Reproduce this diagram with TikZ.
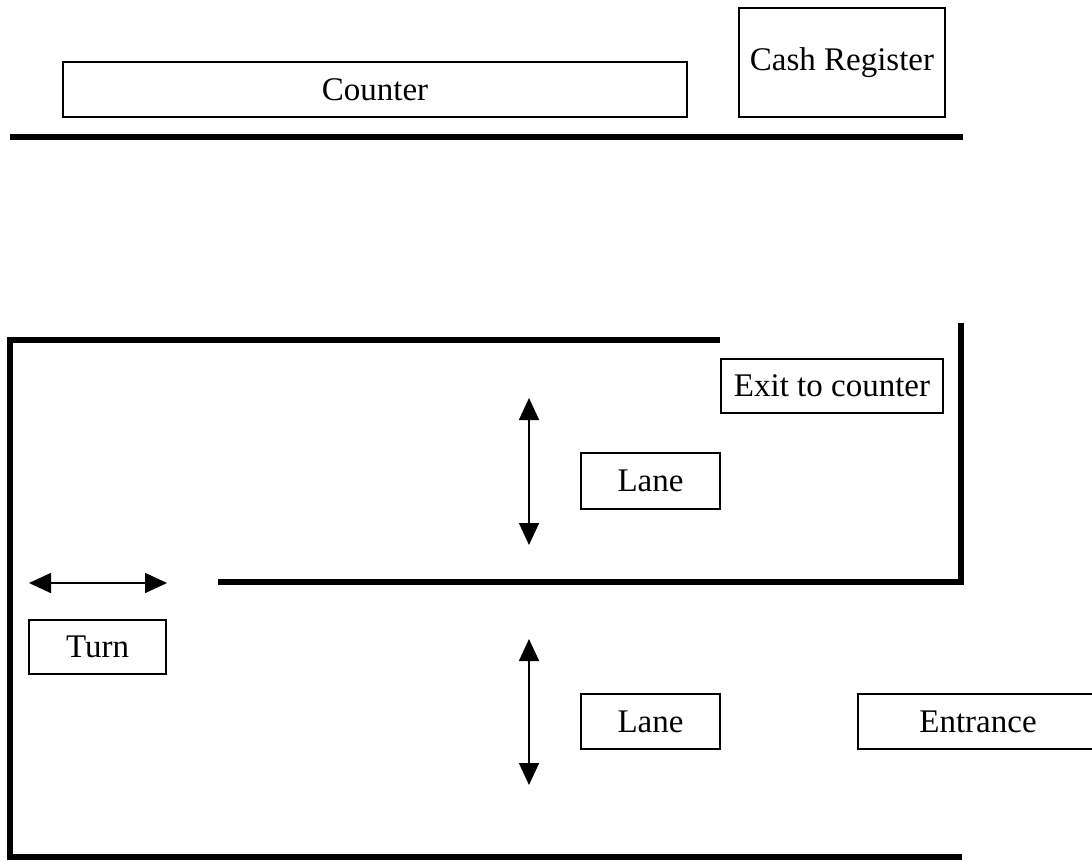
\documentclass[tikz,border=0pt]{standalone}
\usepackage{fontspec}
\setmainfont{Liberation Serif}
\usetikzlibrary{arrows.meta}
\begin{document}
\begin{tikzpicture}[x=1pt,y=-1pt,
  lbl/.style={draw, line width=1.5pt, inner sep=0pt, font=\fontsize{33}{36}\selectfont},
  wall/.style={line width=6pt, line join=miter},
  dblarrow/.style={line width=1.6pt, {Triangle[length=22pt,width=20pt]}-{Triangle[length=22pt,width=20pt]}}]
\useasboundingbox (0,0) rectangle (1092,860);
\clip (0,0) rectangle (1092,860);
% counter area
\node[lbl, minimum width=624pt, minimum height=55pt] (counter) at (375,89.5) {Counter};
\node[lbl, minimum width=206pt, minimum height=109pt] (cash) at (842,62.5) {Cash Register};
\draw[wall] (10,137) -- (963,137);
% walls of the queue
\draw[wall] (720,340) -- (10,340) -- (10,857) -- (962,857);
\draw[wall] (961,323) -- (961,582) -- (218,582);
% labels
\node[lbl, minimum width=222pt, minimum height=54pt] (exit) at (832,386) {Exit to counter};
\node[lbl, minimum width=139pt, minimum height=56pt] (lane1) at (650.5,481) {Lane};
\node[lbl, minimum width=137pt, minimum height=54pt] (turn) at (97.5,647) {Turn};
\node[lbl, minimum width=139pt, minimum height=55pt] (lane2) at (650.5,721.5) {Lane};
\node[lbl, minimum width=240pt, minimum height=55pt] (entrance) at (978,721.5) {Entrance};
% arrows
\coordinate (ua) at (529,398);
\coordinate (ub) at (529,545);
\coordinate (ha) at (29,583);
\coordinate (hb) at (167,583);
\coordinate (la) at (529,639);
\coordinate (lb) at (529,785);
\draw[dblarrow] (ua) -- (ub);
\draw[dblarrow] (ha) -- (hb);
\draw[dblarrow] (la) -- (lb);
\end{tikzpicture}
\end{document}
